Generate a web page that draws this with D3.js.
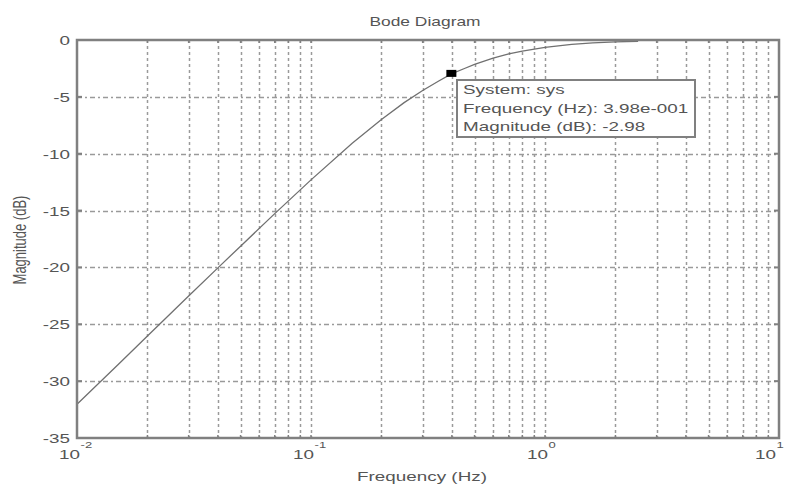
<!DOCTYPE html>
<html>
<head>
<meta charset="utf-8">
<script src="https://cdn.jsdelivr.net/npm/d3@7"></script>
<style>
body { margin: 0; background: #fff; }
svg { display: block; font-family: "Liberation Sans", Arial, sans-serif; }
</style>
</head>
<body>
<svg width="787" height="484"></svg>
<script>
// magnitude
var freqHz = [0.01, 0.015, 0.02, 0.03, 0.04, 0.05, 0.07, 0.1, 0.15, 0.2, 0.25, 0.3, 0.35, 0.398, 0.45, 0.5, 0.6, 0.7, 0.8, 1.0, 1.3, 1.6, 2.0, 2.5];
var magDb = [-32.04, -28.53, -26.03, -22.52, -20.04, -18.13, -15.27, -12.30, -9.09, -6.99, -5.51, -4.44, -3.63, -2.98, -2.53, -2.15, -1.60, -1.23, -0.97, -0.64, -0.39, -0.26, -0.17, -0.11];

var yTicks = [0, -5, -10, -15, -20, -25, -30, -35];
var xDecades = [-2, -1, 0, 1];

var marker = { f: 0.398, db: -2.98 };
var tipLines = ["System: sys", "Frequency (Hz): 3.98e-001", "Magnitude (dB): -2.98"];

var svg = d3.select("svg");
var pLeft = 77, pRight = 779, pTop = 40, pBottom = 438;

var x = d3.scaleLog().domain([0.01, 10]).range([pLeft, pRight]);
var y = d3.scaleLinear().domain([-35, 0]).range([pBottom, pTop]);

var gridCol = "#9a9a9a";
var axisCol = "#808080";
var textCol = "#555";
var fs = 13;
var stretch = "scale(1.45,1)"; // the reference text is wide

// minor log positions for vertical grid
var minor = [];
xDecades.slice(0, 3).forEach(function(d) {
	for (var k = 1; k <= 9; k++) minor.push(k * Math.pow(10, d));
});
minor.push(10);

svg.append("g").selectAll("line")
	.data(minor.filter(function(v) { return v > 0.01 && v < 10; }))
	.enter().append("line")
	.attr("x1", function(d) { return Math.round(x(d)) + 0.5; })
	.attr("x2", function(d) { return Math.round(x(d)) + 0.5; })
	.attr("y1", pTop).attr("y2", pBottom)
	.attr("stroke", gridCol).attr("stroke-width", 1.5)
	.attr("stroke-dasharray", "3,3");

svg.append("g").selectAll("line")
	.data(yTicks.filter(function(v) { return v > -35 && v < 0; }))
	.enter().append("line")
	.attr("x1", pLeft).attr("x2", pRight)
	.attr("y1", function(d) { return Math.round(y(d)) + 0.5; })
	.attr("y2", function(d) { return Math.round(y(d)) + 0.5; })
	.attr("stroke", gridCol).attr("stroke-width", 1.5)
	.attr("stroke-dasharray", "5,3,2,3");

// curve
var line = d3.line()
	.x(function(d, i) { return x(freqHz[i]); })
	.y(function(d) { return y(d); });

svg.append("path")
	.datum(magDb)
	.attr("d", line)
	.attr("fill", "none")
	.attr("stroke", "#707070")
	.attr("stroke-width", 1.3);

// axes box
svg.append("rect")
	.attr("x", pLeft).attr("y", pTop)
	.attr("width", pRight - pLeft).attr("height", pBottom - pTop)
	.attr("fill", "none").attr("stroke", axisCol).attr("stroke-width", 2.5);

// ticks inside
var tickLen = 5;
svg.append("g").selectAll("line")
	.data(yTicks).enter().append("line")
	.attr("x1", pLeft).attr("x2", pLeft + tickLen)
	.attr("y1", function(d) { return y(d); }).attr("y2", function(d) { return y(d); })
	.attr("stroke", axisCol).attr("stroke-width", 2);
svg.append("g").selectAll("line")
	.data(yTicks).enter().append("line")
	.attr("x1", pRight - tickLen).attr("x2", pRight)
	.attr("y1", function(d) { return y(d); }).attr("y2", function(d) { return y(d); })
	.attr("stroke", axisCol).attr("stroke-width", 2);
svg.append("g").selectAll("line")
	.data(minor).enter().append("line")
	.attr("x1", function(d) { return x(d); }).attr("x2", function(d) { return x(d); })
	.attr("y1", pBottom).attr("y2", pBottom - 3)
	.attr("stroke", axisCol).attr("stroke-width", 1.5);
svg.append("g").selectAll("line")
	.data(minor).enter().append("line")
	.attr("x1", function(d) { return x(d); }).attr("x2", function(d) { return x(d); })
	.attr("y1", pTop).attr("y2", pTop + 3)
	.attr("stroke", axisCol).attr("stroke-width", 1.5);

// y tick labels
svg.append("g").selectAll("text")
	.data(yTicks).enter().append("text")
	.attr("transform", function(d) { return "translate(" + (pLeft - 7) + "," + (y(d) + 5) + ") " + stretch; })
	.attr("text-anchor", "end")
	.attr("font-size", fs)
	.attr("fill", textCol)
	.text(function(d) { return d; });

// x tick labels 10^n
var xl = svg.append("g").selectAll("g")
	.data(xDecades).enter().append("g")
	.attr("transform", function(d) {
		var px = x(Math.pow(10, d));
		if (d === 1) px -= 6;
		return "translate(" + px + "," + (pBottom + 21) + ") " + stretch;
	});
xl.append("text")
	.attr("text-anchor", "end")
	.attr("x", 2)
	.attr("font-size", fs)
	.attr("fill", textCol)
	.text("10");
xl.append("text")
	.attr("x", 2.5).attr("y", -11)
	.attr("font-size", 9)
	.attr("fill", textCol)
	.text(function(d) { return d; });

// titles
svg.append("text")
	.attr("transform", "translate(425,26) " + stretch)
	.attr("text-anchor", "middle")
	.attr("font-size", 12)
	.attr("fill", textCol)
	.text("Bode Diagram");
svg.append("text")
	.attr("transform", "translate(422,481) " + stretch)
	.attr("text-anchor", "middle")
	.attr("font-size", fs)
	.attr("fill", textCol)
	.text("Frequency  (Hz)");
svg.append("text")
	.attr("transform", "translate(26,240) " + stretch + " rotate(-90)")
	.attr("text-anchor", "middle")
	.attr("font-size", fs)
	.attr("fill", textCol)
	.text("Magnitude (dB)");

// data tip
svg.append("rect")
	.attr("x", x(marker.f) - 5).attr("y", y(marker.db) - 4)
	.attr("width", 10).attr("height", 7)
	.attr("fill", "#000");

var tip = svg.append("g").attr("transform", "translate(457,80)");
tip.append("rect")
	.attr("width", 238).attr("height", 57)
	.attr("fill", "#fff").attr("stroke", axisCol).attr("stroke-width", 2);
tip.selectAll("text")
	.data(tipLines).enter().append("text")
	.attr("transform", function(d, i) { return "translate(6," + (14 + i * 18.5) + ") " + stretch; })
	.attr("font-size", fs)
	.attr("fill", textCol)
	.text(function(d) { return d; });
</script>
</body>
</html>
